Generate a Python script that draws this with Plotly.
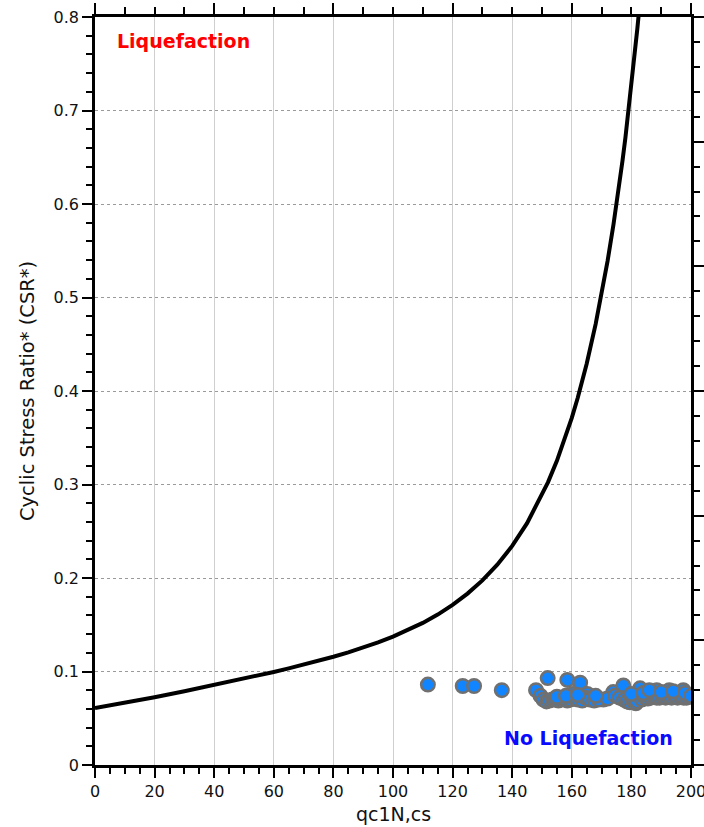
import plotly.graph_objects as go

# Boundary curve
curve_q = [0, 10, 20, 30, 40, 50, 60, 65, 70, 75, 80, 85, 90, 95, 100, 105, 110, 115,
           120, 125, 130, 135, 140, 145, 150, 152, 155, 158, 160, 162, 165, 168, 170,
           172, 174, 175, 176, 177, 178, 179, 180, 181, 182, 183]
curve_csr = [0.0608, 0.0664, 0.0724, 0.0788, 0.0854, 0.0923, 0.0995, 0.1033, 0.1073,
             0.1114, 0.1158, 0.1205, 0.1256, 0.1311, 0.1373, 0.1442, 0.152, 0.1609,
             0.1712, 0.1833, 0.1974, 0.2142, 0.2343, 0.2587, 0.2884, 0.3023, 0.3253,
             0.3516, 0.3712, 0.3928, 0.4292, 0.4715, 0.5033, 0.5389, 0.5783, 0.5995,
             0.6222, 0.646, 0.671, 0.6979, 0.726, 0.756, 0.7876, 0.821]

# Data points
pts_q = [111.7, 123.4, 127.2, 136.5, 148.0, 151.9, 158.5, 162.8, 160.3, 165.2, 170.6,
         173.9, 177.3, 182.9, 188.5, 192.7, 197.4,
         149.5, 150.5, 151.5, 152.5, 153.5, 154.5, 155.5, 156.5, 157.5, 158.5, 159.5,
         161.0, 162.0, 163.5, 164.5, 166.0, 167.5, 169.0, 172.0, 174.5, 176.0, 177.5,
         178.5, 179.5, 180.5, 181.5, 182.0, 183.5, 184.5, 185.5, 186.5, 187.5, 188.5,
         189.5, 190.5, 191.5, 192.5, 193.5, 194.5, 195.5, 196.5, 197.5, 198.5, 199.5,
         180.0, 184.0, 186.0, 190.0, 194.0, 198.0, 200.0, 155.0, 158.0, 162.0, 168.0]
pts_csr = [0.086, 0.0845, 0.0845, 0.080, 0.080, 0.093, 0.091, 0.088, 0.076, 0.076, 0.070,
           0.078, 0.085, 0.082, 0.080, 0.080, 0.080,
           0.074, 0.070, 0.068, 0.069, 0.070, 0.070, 0.069, 0.070, 0.071, 0.069, 0.070,
           0.071, 0.070, 0.069, 0.072, 0.070, 0.069, 0.070, 0.071, 0.074, 0.072, 0.070,
           0.068, 0.067, 0.069, 0.066, 0.068, 0.070, 0.072, 0.071, 0.072, 0.073, 0.072,
           0.072, 0.073, 0.072, 0.073, 0.072, 0.073, 0.072, 0.073, 0.072, 0.072, 0.073,
           0.076, 0.077, 0.080, 0.078, 0.079, 0.077, 0.074, 0.073, 0.074, 0.075, 0.074]

y_ticks = [0, 0.1, 0.2, 0.3, 0.4, 0.5, 0.6, 0.7, 0.8]
y_tick_text = ["0", "0.1", "0.2", "0.3", "0.4", "0.5", "0.6", "0.7", "0.8"]
x_ticks = [0, 20, 40, 60, 80, 100, 120, 140, 160, 180, 200]

FONT = "DejaVu Sans"

fig = go.Figure()
fig.add_trace(go.Scatter(x=curve_q, y=curve_csr, mode="lines",
                         line=dict(color="black", width=4), showlegend=False,
                         hoverinfo="skip"))
fig.add_trace(go.Scatter(x=pts_q, y=pts_csr, mode="markers",
                         marker=dict(size=13.5, color="rgb(17,133,255)",
                                     line=dict(color="#707070", width=2.5)),
                         showlegend=False, cliponaxis=True))
# invisible trace to anchor the secondary (top/right) axes
fig.add_trace(go.Scatter(x=[None], y=[None], xaxis="x2", yaxis="y2",
                         showlegend=False, hoverinfo="skip"))

fig.update_layout(
    width=704, height=827,
    margin=dict(l=95, r=13, t=17, b=62),
    paper_bgcolor="white", plot_bgcolor="white",
    font=dict(family=FONT, size=16, color="#111"),
    xaxis=dict(range=[0, 200], tickvals=x_ticks, showgrid=True, automargin=False,
               ticklabeloverflow="allow",
               gridcolor="#cfcfcf", gridwidth=1, zeroline=False,
               showline=True, linecolor="black", linewidth=2.5,
               ticks="outside", ticklen=10, tickwidth=2, tickcolor="black",
               tickfont=dict(family=FONT, size=16, color="#111"),
               minor=dict(dtick=5, tick0=0, ticks="outside", ticklen=6,
                          tickwidth=2, tickcolor="black", showgrid=False)),
    yaxis=dict(range=[0, 0.8], tickvals=y_ticks, ticktext=y_tick_text, automargin=False,
               ticklabeloverflow="allow",
               showgrid=True, gridcolor="#9a9a9a", gridwidth=1, griddash="dot",
               zeroline=False, showline=True, linecolor="black", linewidth=2.5,
               ticks="outside", ticklen=10, tickwidth=2, tickcolor="black",
               tickfont=dict(family=FONT, size=16, color="#111"),
               minor=dict(dtick=0.02, tick0=0, ticks="outside", ticklen=6,
                          tickwidth=2, tickcolor="black", showgrid=False)),
    xaxis2=dict(range=[0, 200], overlaying="x", side="top", anchor="y",
                automargin=False,
                showgrid=False, zeroline=False, showticklabels=False,
                showline=True, linecolor="black", linewidth=2.5,
                tickmode="linear", tick0=0, dtick=40,
                ticks="outside", ticklen=11, tickwidth=2, tickcolor="black",
                minor=dict(dtick=10, tick0=0, ticks="outside", ticklen=7,
                           tickwidth=2, tickcolor="black", showgrid=False)),
    yaxis2=dict(range=[0, 6], overlaying="y", side="right", anchor="x",
                automargin=False,
                showgrid=False, zeroline=False, showticklabels=False,
                showline=True, linecolor="black", linewidth=2.5,
                tickmode="linear", tick0=0, dtick=1,
                ticks="outside", ticklen=11, tickwidth=2, tickcolor="black",
                minor=dict(dtick=0.2, tick0=0, ticks="outside", ticklen=6,
                           tickwidth=2, tickcolor="black", showgrid=False)),
    annotations=[
        dict(text="<b>Liquefaction</b>", x=6.7, y=0.774, xref="x", yref="y",
             xanchor="left", yanchor="middle", showarrow=False,
             font=dict(family=FONT, size=19, color="#ff0000")),
        dict(text="<b>No Liquefaction</b>", x=136.6, y=0.029, xref="x", yref="y",
             xanchor="left", yanchor="middle", showarrow=False,
             font=dict(family=FONT, size=19, color="#0a0aff")),
        dict(text="Cyclic Stress Ratio* (CSR*)", x=-0.114, y=0.5, xref="paper",
             yref="paper", xanchor="center", yanchor="middle", textangle=-90,
             showarrow=False, font=dict(family=FONT, size=19.5, color="#111")),
        dict(text="qc1N,cs", x=0.5, y=-0.0655, xref="paper", yref="paper",
             xanchor="center", yanchor="middle", showarrow=False,
             font=dict(family=FONT, size=19, color="#111")),
    ],
)

fig.write_html("out.html")
